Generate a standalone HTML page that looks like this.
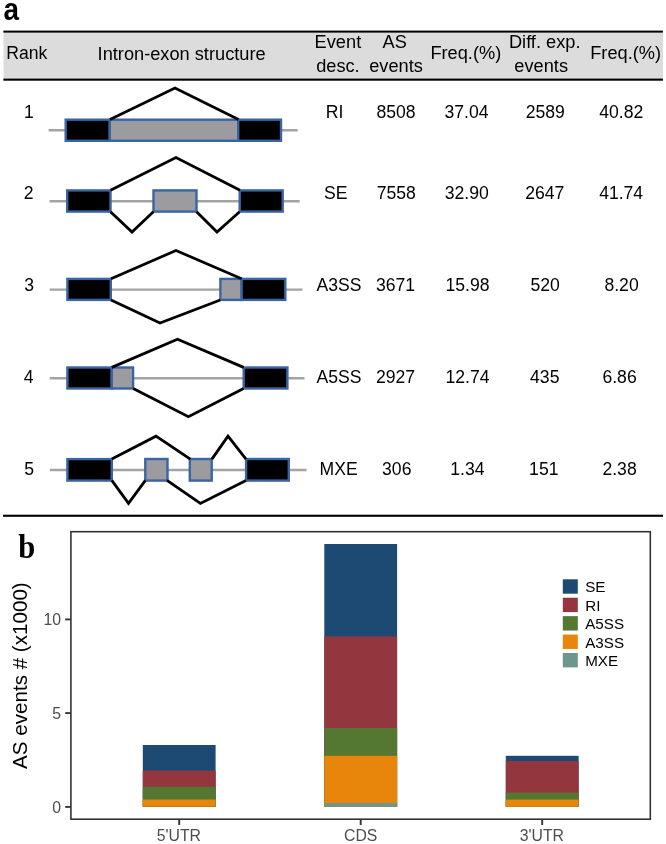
<!DOCTYPE html>
<html><head><meta charset="utf-8"><title>AS events figure</title>
<style>
html,body{margin:0;padding:0;background:#fff;}
body{width:666px;height:844px;overflow:hidden;position:relative;font-family:"Liberation Sans",sans-serif;}
svg{position:absolute;left:0;top:0;display:block;will-change:transform;}
svg text{font-family:"Liberation Sans",sans-serif;}
</style></head>
<body>
<svg width="666" height="844" viewBox="0 0 666 844">
<text transform="translate(3.6,19.6) scale(0.9,1)" font-size="31" font-weight="bold" fill="#000">a</text>
<rect x="3.5" y="31" width="659.5" height="48.5" fill="#DCDCDC"/>
<rect x="3.4" y="30.6" width="659.5" height="2.0" fill="#000"/>
<rect x="3.4" y="78.6" width="659.5" height="2.1" fill="#000"/>
<rect x="3.0" y="514.7" width="660" height="2.1" fill="#000"/>
<text x="26.8" y="59" font-size="17.6" text-anchor="middle" fill="#000" >Rank</text>
<text transform="translate(181.6,60) scale(1.035,1)" font-size="17.6" text-anchor="middle" fill="#000" >Intron-exon structure</text>
<text transform="translate(337.9,47.6) scale(1.035,1)" font-size="17.6" text-anchor="middle" fill="#000" >Event</text>
<text transform="translate(337.9,71.6) scale(1.035,1)" font-size="17.6" text-anchor="middle" fill="#000" >desc.</text>
<text transform="translate(394.7,47.6) scale(1.035,1)" font-size="17.6" text-anchor="middle" fill="#000" >AS</text>
<text transform="translate(396.05,71.6) scale(1.035,1)" font-size="17.6" text-anchor="middle" fill="#000" >events</text>
<text transform="translate(465.8,59) scale(1.035,1)" font-size="17.6" text-anchor="middle" fill="#000" >Freq.(%)</text>
<text transform="translate(544.7,47.6) scale(1.035,1)" font-size="17.6" text-anchor="middle" fill="#000" >Diff. exp.</text>
<text transform="translate(541.15,71.6) scale(1.035,1)" font-size="17.6" text-anchor="middle" fill="#000" >events</text>
<text transform="translate(625.65,59) scale(1.035,1)" font-size="17.6" text-anchor="middle" fill="#000" >Freq.(%)</text>
<text x="29.0" y="118" font-size="17.6" text-anchor="middle" fill="#000" >1</text>
<text x="334.6" y="118" font-size="17.6" text-anchor="middle" fill="#000" >RI</text>
<text x="396.0" y="118" font-size="17.6" text-anchor="middle" fill="#000" >8508</text>
<text x="466.5" y="118" font-size="17.6" text-anchor="middle" fill="#000" >37.04</text>
<text x="545.25" y="118" font-size="17.6" text-anchor="middle" fill="#000" >2589</text>
<text x="621.2" y="118" font-size="17.6" text-anchor="middle" fill="#000" >40.82</text>
<text x="28.65" y="199" font-size="17.6" text-anchor="middle" fill="#000" >2</text>
<text x="335.8" y="199" font-size="17.6" text-anchor="middle" fill="#000" >SE</text>
<text x="396.2" y="199" font-size="17.6" text-anchor="middle" fill="#000" >7558</text>
<text x="466.7" y="199" font-size="17.6" text-anchor="middle" fill="#000" >32.90</text>
<text x="544.8" y="199" font-size="17.6" text-anchor="middle" fill="#000" >2647</text>
<text x="621.15" y="199" font-size="17.6" text-anchor="middle" fill="#000" >41.74</text>
<text x="29.1" y="291.0" font-size="17.6" text-anchor="middle" fill="#000" >3</text>
<text x="339.1" y="291.0" font-size="17.6" text-anchor="middle" fill="#000" >A3SS</text>
<text x="395.5" y="291.0" font-size="17.6" text-anchor="middle" fill="#000" >3671</text>
<text x="467.45" y="291.0" font-size="17.6" text-anchor="middle" fill="#000" >15.98</text>
<text x="545.2" y="291.0" font-size="17.6" text-anchor="middle" fill="#000" >520</text>
<text x="621.55" y="291.0" font-size="17.6" text-anchor="middle" fill="#000" >8.20</text>
<text x="28.75" y="382.9" font-size="17.6" text-anchor="middle" fill="#000" >4</text>
<text x="339.1" y="382.9" font-size="17.6" text-anchor="middle" fill="#000" >A5SS</text>
<text x="395.5" y="382.9" font-size="17.6" text-anchor="middle" fill="#000" >2927</text>
<text x="467.45" y="382.9" font-size="17.6" text-anchor="middle" fill="#000" >12.74</text>
<text x="544.75" y="382.9" font-size="17.6" text-anchor="middle" fill="#000" >435</text>
<text x="619.55" y="382.9" font-size="17.6" text-anchor="middle" fill="#000" >6.86</text>
<text x="29.1" y="474.6" font-size="17.6" text-anchor="middle" fill="#000" >5</text>
<text x="338.65" y="474.6" font-size="17.6" text-anchor="middle" fill="#000" >MXE</text>
<text x="396.75" y="474.6" font-size="17.6" text-anchor="middle" fill="#000" >306</text>
<text x="467.45" y="474.6" font-size="17.6" text-anchor="middle" fill="#000" >1.34</text>
<text x="543.8" y="474.6" font-size="17.6" text-anchor="middle" fill="#000" >151</text>
<text x="619.55" y="474.6" font-size="17.6" text-anchor="middle" fill="#000" >2.38</text>
<line x1="48.6" y1="130.3" x2="297.7" y2="130.3" stroke="#A3A3A3" stroke-width="2.4"/>
<rect x="65.70" y="119.70" width="44.00" height="21.10" fill="#000" stroke="#3B64A3" stroke-width="2.4"/>
<rect x="109.80" y="119.70" width="128.60" height="21.10" fill="#9C9B9F" stroke="#3B64A3" stroke-width="2.4"/>
<rect x="238.20" y="119.70" width="42.80" height="21.10" fill="#000" stroke="#3B64A3" stroke-width="2.4"/>
<polyline points="110,119.5 175,88 238.5,119.5" fill="none" stroke="#000" stroke-width="2.8" stroke-linejoin="miter" stroke-miterlimit="10"/>
<line x1="49.5" y1="201.2" x2="299.7" y2="201.2" stroke="#A3A3A3" stroke-width="2.4"/>
<rect x="67.20" y="190.40" width="43.30" height="21.20" fill="#000" stroke="#3B64A3" stroke-width="2.4"/>
<rect x="153.50" y="190.40" width="43.00" height="21.20" fill="#9C9B9F" stroke="#3B64A3" stroke-width="2.4"/>
<rect x="239.70" y="190.40" width="43.00" height="21.20" fill="#000" stroke="#3B64A3" stroke-width="2.4"/>
<polyline points="110.5,190.3 176,157.5 240,190.3" fill="none" stroke="#000" stroke-width="2.8" stroke-linejoin="miter" stroke-miterlimit="10"/>
<polyline points="110.5,211.7 132,232 153.4,211.7" fill="none" stroke="#000" stroke-width="2.8" stroke-linejoin="miter" stroke-miterlimit="10"/>
<polyline points="196.6,211.7 217,232 239.6,211.7" fill="none" stroke="#000" stroke-width="2.8" stroke-linejoin="miter" stroke-miterlimit="10"/>
<line x1="49.7" y1="289.6" x2="302.5" y2="289.6" stroke="#A3A3A3" stroke-width="2.4"/>
<rect x="67.40" y="278.90" width="43.40" height="21.00" fill="#000" stroke="#3B64A3" stroke-width="2.4"/>
<rect x="220.40" y="278.90" width="21.20" height="21.00" fill="#9C9B9F" stroke="#3B64A3" stroke-width="2.4"/>
<rect x="241.60" y="278.90" width="43.70" height="21.00" fill="#000" stroke="#3B64A3" stroke-width="2.4"/>
<polyline points="111,278.8 176,250.5 241.6,278.8" fill="none" stroke="#000" stroke-width="2.8" stroke-linejoin="miter" stroke-miterlimit="10"/>
<polyline points="111,300 160,323 220.3,300" fill="none" stroke="#000" stroke-width="2.8" stroke-linejoin="miter" stroke-miterlimit="10"/>
<line x1="49.8" y1="378.3" x2="304.5" y2="378.3" stroke="#A3A3A3" stroke-width="2.4"/>
<rect x="67.40" y="367.50" width="44.40" height="21.00" fill="#000" stroke="#3B64A3" stroke-width="2.4"/>
<rect x="111.80" y="367.50" width="21.30" height="21.00" fill="#9C9B9F" stroke="#3B64A3" stroke-width="2.4"/>
<rect x="243.70" y="367.50" width="43.70" height="21.00" fill="#000" stroke="#3B64A3" stroke-width="2.4"/>
<polyline points="111.8,367.4 177.5,339.2 243.6,367.4" fill="none" stroke="#000" stroke-width="2.8" stroke-linejoin="miter" stroke-miterlimit="10"/>
<polyline points="133.2,388.6 188.4,416.8 243.6,388.6" fill="none" stroke="#000" stroke-width="2.8" stroke-linejoin="miter" stroke-miterlimit="10"/>
<line x1="49.8" y1="470.0" x2="306.6" y2="470.0" stroke="#A3A3A3" stroke-width="2.4"/>
<rect x="67.40" y="459.10" width="44.40" height="21.50" fill="#000" stroke="#3B64A3" stroke-width="2.4"/>
<rect x="145.30" y="459.00" width="22.20" height="21.60" fill="#9C9B9F" stroke="#3B64A3" stroke-width="2.4"/>
<rect x="189.80" y="459.00" width="21.90" height="21.60" fill="#9C9B9F" stroke="#3B64A3" stroke-width="2.4"/>
<rect x="246.10" y="459.00" width="42.70" height="21.60" fill="#000" stroke="#3B64A3" stroke-width="2.4"/>
<polyline points="111.8,459.1 156,436.2 190.3,459.1" fill="none" stroke="#000" stroke-width="2.8" stroke-linejoin="miter" stroke-miterlimit="10"/>
<polyline points="211.9,459.1 228,436.2 246,459.1" fill="none" stroke="#000" stroke-width="2.8" stroke-linejoin="miter" stroke-miterlimit="10"/>
<polyline points="111.8,480.4 128.5,503.3 145.4,480.4" fill="none" stroke="#000" stroke-width="2.8" stroke-linejoin="miter" stroke-miterlimit="10"/>
<polyline points="167,480.4 200.4,503.4 246,480.4" fill="none" stroke="#000" stroke-width="2.8" stroke-linejoin="miter" stroke-miterlimit="10"/>
<text transform="translate(18.3,558.1) scale(0.93,1)" font-size="33" font-weight="bold" style="font-family:Liberation Serif,serif" fill="#000">b</text>
<rect x="142.80" y="745" width="72.8" height="61.70" fill="#1D4A72"/>
<rect x="142.80" y="770.5" width="72.8" height="36.20" fill="#93363D"/>
<rect x="142.80" y="786.8" width="72.8" height="19.90" fill="#547731"/>
<rect x="142.80" y="799.5" width="72.8" height="7.20" fill="#E8860B"/>
<rect x="324.30" y="544" width="72.8" height="262.80" fill="#1D4A72"/>
<rect x="324.30" y="636.5" width="72.8" height="170.30" fill="#93363D"/>
<rect x="324.30" y="728" width="72.8" height="78.80" fill="#547731"/>
<rect x="324.30" y="755.8" width="72.8" height="51.00" fill="#E8860B"/>
<rect x="324.30" y="803.1" width="72.8" height="3.70" fill="#6D9690"/>
<rect x="505.80" y="755.8" width="72.8" height="51.00" fill="#1D4A72"/>
<rect x="505.80" y="761" width="72.8" height="45.80" fill="#93363D"/>
<rect x="505.80" y="792.6" width="72.8" height="14.20" fill="#547731"/>
<rect x="505.80" y="799.6" width="72.8" height="7.20" fill="#E8860B"/>
<rect x="70.9" y="531.7" width="579.4" height="287.5" fill="none" stroke="#333" stroke-width="1.6"/>
<line x1="65.2" y1="619.4" x2="70.9" y2="619.4" stroke="#333" stroke-width="1.9"/>
<line x1="65.2" y1="713.1" x2="70.9" y2="713.1" stroke="#333" stroke-width="1.9"/>
<line x1="65.2" y1="806.9" x2="70.9" y2="806.9" stroke="#333" stroke-width="1.9"/>
<line x1="179.2" y1="819.2" x2="179.2" y2="825" stroke="#333" stroke-width="1.9"/>
<line x1="360.7" y1="819.2" x2="360.7" y2="825" stroke="#333" stroke-width="1.9"/>
<line x1="542.2" y1="819.2" x2="542.2" y2="825" stroke="#333" stroke-width="1.9"/>
<text transform="translate(61,624.8) scale(0.93,1)" font-size="17.0" text-anchor="end" fill="#4D4D4D" >10</text>
<text transform="translate(61,718.8) scale(0.93,1)" font-size="17.0" text-anchor="end" fill="#4D4D4D" >5</text>
<text transform="translate(61,812.6) scale(0.93,1)" font-size="17.0" text-anchor="end" fill="#4D4D4D" >0</text>
<text transform="translate(178.8,840.7) scale(0.93,1)" font-size="17.0" text-anchor="middle" fill="#4D4D4D" >5'UTR</text>
<text transform="translate(360.7,840.7) scale(0.93,1)" font-size="17.0" text-anchor="middle" fill="#4D4D4D" >CDS</text>
<text transform="translate(541.8,840.7) scale(0.93,1)" font-size="17.0" text-anchor="middle" fill="#4D4D4D" >3'UTR</text>
<text transform="translate(27,675.6) rotate(-90)" x="0" y="0" font-size="20.6" text-anchor="middle" fill="#000">AS events # (x1000)</text>
<rect x="562.8" y="579.30" width="15" height="14.4" fill="#1D4A72"/>
<text x="585.2" y="592.30" font-size="15.2" text-anchor="start" fill="#000" >SE</text>
<rect x="562.8" y="597.72" width="15" height="14.4" fill="#93363D"/>
<text x="585.2" y="610.72" font-size="15.2" text-anchor="start" fill="#000" >RI</text>
<rect x="562.8" y="616.14" width="15" height="14.4" fill="#547731"/>
<text x="585.2" y="629.14" font-size="15.2" text-anchor="start" fill="#000" >A5SS</text>
<rect x="562.8" y="634.56" width="15" height="14.4" fill="#E8860B"/>
<text x="585.2" y="647.56" font-size="15.2" text-anchor="start" fill="#000" >A3SS</text>
<rect x="562.8" y="652.98" width="15" height="14.4" fill="#6D9690"/>
<text x="585.2" y="665.98" font-size="15.2" text-anchor="start" fill="#000" >MXE</text>
</svg>
</body></html>
